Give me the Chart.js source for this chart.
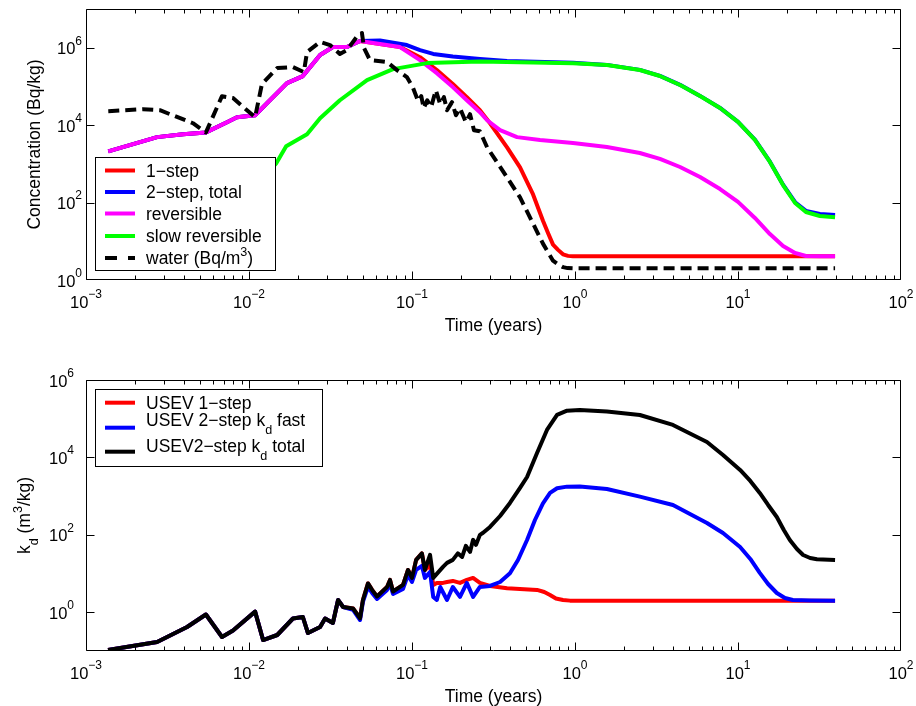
<!DOCTYPE html>
<html>
<head>
<meta charset="utf-8">
<script src="https://cdn.jsdelivr.net/npm/chart.js@4.4.0/dist/chart.umd.min.js"></script>
<style>
  html, body { margin: 0; padding: 0; background: #fff; }
  #wrap { position: relative; width: 916px; height: 706px; }
  #wrap canvas { position: absolute; left: 0; }
</style>
</head>
<body>
<div id="wrap">
  <canvas id="conc" width="916" height="340" style="top:0"></canvas>
  <canvas id="kd" width="916" height="366" style="top:340px"></canvas>
</div>
<script>
// ---- top panel: concentration vs time (years) ----
const oneStepT = [1.37e-3, 2.73e-3, 3.94e-3, 5.44e-3, 7.33e-3, 8.44e-3, 1.09e-2, 1.29e-2, 1.71e-2, 2.14e-2, 2.73e-2, 3.27e-2, 3.99e-2, 4.80e-2, 6.36e-2, 8.44e-2,
  0.112, 0.142, 0.178, 0.217, 0.261, 0.301, 0.383, 0.460, 0.553, 0.636, 0.683, 0.733, 0.787, 0.844, 0.906, 0.972, 39.4];
const oneStepC = [2.1e3, 4.9e3, 5.8e3, 6.5e3, 1.19e4, 1.6e4, 1.8e4, 3.7e4, 1.22e5, 1.85e5, 6.5e5, 1.04e6, 1.04e6, 1.49e6, 1.25e6, 1.04e6,
  5.7e5, 2.64e5, 1.15e5, 5.3e4, 2.43e4, 1.12e4, 2.67e3, 811, 162, 34, 16.4, 8.2, 6.0, 4.6, 4.2, 4.1, 4.1];

const twoStepT = [1.37e-3, 2.73e-3, 3.94e-3, 5.44e-3, 7.33e-3, 8.44e-3, 1.09e-2, 1.29e-2, 1.71e-2, 2.14e-2, 2.73e-2, 3.27e-2, 3.99e-2, 4.80e-2,
  6.36e-2, 9.3e-2, 0.112, 0.135, 0.178, 0.261, 0.383, 0.972, 1.57, 2.50, 3.32, 4.41, 5.85, 7.76, 10.0, 12.7, 15.7, 18.9, 22.4, 26.1, 31.8, 39.4];
const twoStepC = [2.1e3, 4.9e3, 5.8e3, 6.5e3, 1.19e4, 1.6e4, 1.8e4, 3.7e4, 1.22e5, 1.85e5, 6.5e5, 1.04e6, 1.04e6, 1.49e6,
  1.54e6, 1.17e6, 8.7e5, 6.9e5, 5.9e5, 5.1e5, 4.52e5, 4.09e5, 3.6e5, 2.68e5, 1.87e5, 1.1e5, 5.7e4, 2.78e4, 1.22e4, 4.2e3, 1.14e3, 290, 102, 61, 50.7, 47.8];

const reversibleT = [1.37e-3, 2.73e-3, 3.94e-3, 5.44e-3, 7.33e-3, 8.44e-3, 1.09e-2, 1.29e-2, 1.71e-2, 2.14e-2, 2.73e-2, 3.27e-2, 3.99e-2, 4.80e-2, 6.36e-2, 8.44e-2,
  0.112, 0.142, 0.178, 0.217, 0.261, 0.289, 0.347, 0.441, 0.610, 0.972, 1.57, 2.50, 3.32, 4.41, 5.85, 7.76, 10.0, 12.7, 15.7, 18.9, 22.4, 26.1, 31.8, 39.4];
const reversibleC = [2.1e3, 4.9e3, 5.8e3, 6.5e3, 1.19e4, 1.6e4, 1.8e4, 3.7e4, 1.22e5, 1.85e5, 6.5e5, 1.04e6, 1.04e6, 1.49e6, 1.25e6, 1.04e6,
  4.8e5, 2.2e5, 9.6e4, 4.4e4, 2.16e4, 1.34e4, 7.4e3, 4.9e3, 4.14e3, 3.46e3, 2.73e3, 1.91e3, 1.34e3, 830, 458, 224, 104, 40, 15.4, 7.55, 4.98, 4.17, 4.1, 4.1];

const slowT = [7.63e-3, 1.09e-2, 1.47e-2, 1.69e-2, 2.27e-2, 2.73e-2, 3.61e-2, 5.30e-2, 7.65e-2, 0.124, 0.261, 0.972,
  1.57, 2.50, 3.32, 4.41, 5.85, 7.76, 10.0, 12.7, 15.7, 18.9, 22.4, 26.1, 31.8, 39.4];
const slowC = [84, 277, 1.03e3, 2.84e3, 5.8e3, 1.51e4, 4.4e4, 1.46e5, 2.8e5, 4.0e5, 4.39e5, 3.96e5,
  3.58e5, 2.66e5, 1.86e5, 1.09e5, 5.67e4, 2.77e4, 1.21e4, 4.14e3, 1.12e3, 284, 97.5, 57.1, 45, 41.7];

const waterT = [1.37e-3, 2.24e-3, 2.84e-3, 4.53e-3, 5.44e-3, 6.83e-3, 7.98e-3, 1.09e-2, 1.20e-2, 1.49e-2, 1.86e-2, 2.17e-2, 2.27e-2, 2.73e-2, 3.14e-2,
  3.61e-2, 3.99e-2, 4.67e-2, 4.93e-2, 5.08e-2, 5.52e-2, 7.03e-2, 8.09e-2, 9.3e-2, 0.101, 0.109, 0.114, 0.118, 0.124, 0.131, 0.140, 0.149,
  0.157, 0.164, 0.176, 0.186, 0.197, 0.214, 0.227, 0.240, 0.261, 0.289, 0.383, 0.460, 0.553, 0.636, 0.733, 0.79, 0.844, 0.90, 0.972, 39.4];
const waterC = [2.29e4, 2.58e4, 2.43e4, 1.12e4, 6.5e3, 5.6e4, 5.0e4, 1.6e4, 1.15e5, 2.98e5, 3.16e5, 2.35e5, 7.7e5, 1.41e6, 1.17e6,
  6.9e5, 8.7e5, 2.13e6, 2.4e6, 9.8e5, 4.8e5, 4.26e5, 2.64e5, 1.74e5, 9.6e4, 4.16e4, 5.6e4, 2.74e4, 4.4e4, 2.91e4, 8.0e4, 3.48e4,
  5.3e4, 2.43e4, 3.92e4, 1.8e4, 2.74e4, 1.19e4, 1.92e4, 7.4e3, 6.95e3, 2.67e3, 447, 136, 28.7, 8.7, 3.16, 2.5, 2.15, 2.03, 2.0, 2.0];

// ---- bottom panel: kd vs time (years) ----
const kdOneT = [1.365e-3, 2.73e-3, 4.17e-3, 5.44e-3, 6.83e-3, 7.98e-3, 1.09e-2, 1.22e-2, 1.49e-2, 1.86e-2, 2.14e-2, 2.30e-2, 2.73e-2, 2.93e-2, 3.27e-2,
  3.52e-2, 3.78e-2, 4.35e-2, 4.80e-2, 5.00e-2, 5.37e-2, 5.69e-2, 6.10e-2, 7.03e-2, 7.33e-2, 7.65e-2, 8.81e-2, 9.45e-2, 0.100, 0.106, 0.115, 0.120,
  0.129, 0.135, 0.142, 0.155, 0.164, 0.178, 0.197, 0.217, 0.237, 0.261, 0.301, 0.383, 0.585, 0.648, 0.703, 0.764, 0.844, 0.931, 39.4];
const kdOne = [0.106, 0.170, 0.417, 0.877, 0.230, 0.338, 1.04, 0.192, 0.259, 0.691, 0.756, 0.291, 0.417, 0.691, 0.529,
  2.08, 1.37, 1.25, 0.700, 2.08, 5.56, 3.78, 2.56, 4.51, 6.85, 3.45, 5.09, 12.4, 7.72, 22.6, 33.2, 12.4,
  16.7, 5.09, 5.73, 5.73, 6.08, 6.45, 5.73, 6.85, 7.72, 5.73, 4.79, 4.18, 3.78, 3.35, 2.80, 2.27, 2.08, 2.0, 2.0];

const kdFastT = [1.365e-3, 2.73e-3, 4.17e-3, 5.44e-3, 6.83e-3, 7.98e-3, 1.09e-2, 1.22e-2, 1.49e-2, 1.86e-2, 2.14e-2, 2.30e-2, 2.73e-2, 2.93e-2, 3.27e-2,
  3.52e-2, 3.78e-2, 4.35e-2, 4.80e-2, 5.00e-2, 5.37e-2, 5.69e-2, 6.10e-2, 7.03e-2, 7.33e-2, 7.65e-2, 8.81e-2, 9.45e-2, 0.100, 0.106, 0.115, 0.120,
  0.129, 0.135, 0.142, 0.149, 0.164, 0.178, 0.197, 0.217, 0.237, 0.261, 0.301, 0.347, 0.399, 0.447, 0.508, 0.568, 0.636, 0.703, 0.776, 0.893,
  1.07, 1.57, 2.50, 3.99, 6.45, 8.09, 10.3, 11.9, 13.6, 15.3, 17.3, 19.4, 21.7, 27.7, 39.4];
const kdFast = [0.106, 0.170, 0.417, 0.877, 0.230, 0.338, 1.04, 0.192, 0.259, 0.691, 0.756, 0.291, 0.417, 0.691, 0.529,
  2.08, 1.37, 1.15, 0.632, 1.85, 4.51, 3.16, 2.21, 3.78, 5.40, 2.97, 4.01, 9.23, 6.08, 12.4, 15.8, 7.72,
  11.0, 2.49, 2.08, 4.51, 2.08, 4.51, 2.49, 5.73, 2.49, 4.51, 4.78, 6.06, 10.2, 22.4, 73.8, 242, 654, 1.21e3, 1.60e3, 1.76e3,
  1.77e3, 1.53e3, 969, 591, 203, 112, 48.6, 23.8, 10.4, 5.38, 3.15, 2.34, 2.08, 2.02, 2.0];

const kdTotalT = [1.365e-3, 2.73e-3, 4.17e-3, 5.44e-3, 6.83e-3, 7.98e-3, 1.09e-2, 1.22e-2, 1.49e-2, 1.86e-2, 2.14e-2, 2.30e-2, 2.73e-2, 2.93e-2, 3.27e-2,
  3.52e-2, 3.78e-2, 4.35e-2, 4.80e-2, 5.00e-2, 5.37e-2, 5.69e-2, 6.10e-2, 7.03e-2, 7.33e-2, 7.65e-2, 8.81e-2, 9.45e-2, 0.100, 0.106, 0.115, 0.120,
  0.129, 0.135, 0.155, 0.164, 0.178, 0.191, 0.203, 0.214, 0.227, 0.237, 0.247, 0.261, 0.273, 0.301, 0.347, 0.399, 0.460, 0.508, 0.585, 0.673, 0.776, 0.893,
  1.07, 1.57, 2.50, 3.99, 6.45, 8.09, 10.3, 11.9, 13.6, 15.3, 17.3, 19.1, 20.8, 23.0, 25.1, 27.7, 30.5, 39.4];
const kdTotal = [0.106, 0.170, 0.417, 0.877, 0.230, 0.338, 1.04, 0.192, 0.259, 0.691, 0.756, 0.291, 0.417, 0.691, 0.529,
  2.08, 1.37, 1.25, 0.700, 2.08, 5.56, 3.78, 2.56, 4.51, 6.85, 3.45, 5.09, 12.4, 7.72, 22.6, 33.2, 12.4,
  30.4, 7.72, 14.9, 18.9, 22.6, 33.2, 27.0, 51.9, 36.3, 74.3, 55.1, 100, 113, 160, 307, 666, 1.63e3, 3.13e3, 1.30e4, 5.12e4, 1.25e5, 1.61e5,
  1.68e5, 1.54e5, 1.25e5, 6.9e4, 2.51e4, 1.16e4, 4.74e3, 2.47e3, 1.21e3, 591, 290, 134, 73.8, 43.2, 30.2, 25.3, 23.4, 22.4];

// tick decades
const xPowers = [-3, -2, -1, 0, 1, 2];
const concPowers = [0, 2, 4, 6];
const kdPowers = [0, 2, 4, 6];

const FONT = '"Liberation Sans", Arial, Helvetica, sans-serif';
const font = s => s + 'px ' + FONT;

function pts(t, v) {
  return t.map((x, i) => ({ x: x, y: v[i] }));
}

function richWidth(ctx, segs, size) {
  let w = 0;
  segs.forEach(s => {
    ctx.font = font(s.sub || s.sup ? size * 0.72 : size);
    w += ctx.measureText(s.t).width;
  });
  return w;
}

function drawRich(ctx, segs, x, y, size) {
  segs.forEach(s => {
    const small = s.sub || s.sup;
    ctx.font = font(small ? size * 0.72 : size);
    const dy = s.sup ? -size * 0.47 : (s.sub ? size * 0.45 : 0);
    ctx.fillText(s.t, x, y + dy);
    x += ctx.measureText(s.t).width;
  });
}

// draws "10" with a raised exponent
function drawPower(ctx, p, x, y, align) {
  const exp = p < 0 ? '\u2212' + (-p) : String(p);
  ctx.font = font(16.5);
  const w1 = ctx.measureText('10').width;
  ctx.font = font(12);
  const w2 = ctx.measureText(exp).width;
  let x0 = align === 'right' ? x - w1 - w2 : x - (w1 + w2) / 2;
  ctx.font = font(16.5);
  ctx.fillText('10', x0, y);
  ctx.font = font(12);
  ctx.fillText(exp, x0 + w1, y - 9.6);
}

const framePlugin = {
  id: 'frame',
  afterDraw(chart, args, opts) {
    const ctx = chart.ctx;
    const a = chart.chartArea;
    const xs = chart.scales.x, ys = chart.scales.y;
    const L = Math.round(a.left) + 0.5, R = Math.round(a.right) - 0.5;
    const T = Math.round(a.top) + 0.5, B = Math.round(a.bottom) - 0.5;
    const clampX = v => Math.min(R, Math.max(L, Math.round(v) + 0.5));
    const clampY = v => Math.min(B, Math.max(T, Math.round(v) + 0.5));
    ctx.save();
    ctx.setLineDash([]);
    ctx.strokeStyle = '#000';
    ctx.lineWidth = 1;
    ctx.beginPath();
    ctx.rect(L, T, R - L, B - T);
    // x ticks, major and minor, pointing inward on bottom and top
    xPowers.forEach(p => {
      const px = clampX(xs.getPixelForValue(Math.pow(10, p)));
      ctx.moveTo(px, B); ctx.lineTo(px, B - 8);
      ctx.moveTo(px, T); ctx.lineTo(px, T + 8);
      if (p < 2) {
        for (let k = 2; k <= 9; k++) {
          const mx = clampX(xs.getPixelForValue(k * Math.pow(10, p)));
          ctx.moveTo(mx, B); ctx.lineTo(mx, B - 4);
          ctx.moveTo(mx, T); ctx.lineTo(mx, T + 4);
        }
      }
    });
    opts.yPowers.forEach(p => {
      const py = clampY(ys.getPixelForValue(Math.pow(10, p)));
      ctx.moveTo(L, py); ctx.lineTo(L + 8, py);
      ctx.moveTo(R, py); ctx.lineTo(R - 8, py);
    });
    ctx.stroke();

    // tick labels
    ctx.fillStyle = '#000';
    ctx.textBaseline = 'alphabetic';
    ctx.textAlign = 'left';
    xPowers.forEach(p => {
      drawPower(ctx, p, xs.getPixelForValue(Math.pow(10, p)), a.bottom + 27.5, 'center');
    });
    opts.yPowers.forEach(p => {
      drawPower(ctx, p, opts.yLabelRight, ys.getPixelForValue(Math.pow(10, p)) + 6.5, 'right');
    });

    // axis titles
    const ts = 17.5;
    const xw = richWidth(ctx, opts.xTitle, ts);
    drawRich(ctx, opts.xTitle, (a.left + a.right) / 2 - xw / 2, a.bottom + 51, ts);
    const yw = richWidth(ctx, opts.yTitle, ts);
    ctx.save();
    ctx.translate(opts.yTitleX, (a.top + a.bottom) / 2);
    ctx.rotate(-Math.PI / 2);
    drawRich(ctx, opts.yTitle, -yw / 2, 0, ts);
    ctx.restore();

    // legend box
    const lg = opts.legend;
    ctx.fillStyle = '#fff';
    ctx.fillRect(lg.x, lg.y, lg.w, lg.h);
    ctx.strokeStyle = '#000';
    ctx.lineWidth = 1;
    ctx.strokeRect(lg.x + 0.5, lg.y + 0.5, lg.w, lg.h);
    lg.rows.forEach(r => {
      ctx.beginPath();
      ctx.strokeStyle = r.color;
      ctx.lineWidth = 4;
      ctx.setLineDash(r.dash || []);
      ctx.moveTo(105, r.y);
      ctx.lineTo(135, r.y);
      ctx.stroke();
      ctx.setLineDash([]);
      ctx.fillStyle = '#000';
      drawRich(ctx, r.text, 146, r.textY + 0.36 * ts, ts);
    });
    ctx.restore();
  }
};

function line(label, t, v, color, order, dash) {
  return {
    label: label,
    data: pts(t, v),
    borderColor: color,
    backgroundColor: color,
    borderWidth: 4,
    borderDash: dash || [],
    pointRadius: 0,
    tension: 0,
    borderJoinStyle: 'round',
    fill: false,
    order: order
  };
}

function makeChart(id, datasets, yMin, yMax, pad, deco) {
  return new Chart(document.getElementById(id), {
    type: 'line',
    data: { datasets: datasets },
    options: {
      responsive: false,
      animation: false,
      events: [],
      layout: { padding: pad },
      scales: {
        x: { type: 'logarithmic', min: 1e-3, max: 1e2, display: false },
        y: { type: 'logarithmic', min: yMin, max: yMax, display: false }
      },
      plugins: { legend: { display: false }, tooltip: { enabled: false }, frame: deco }
    },
    plugins: [framePlugin]
  });
}

makeChart('conc', [
  line('1\u2212step', oneStepT, oneStepC, '#ff0000', 5),
  line('2\u2212step, total', twoStepT, twoStepC, '#0000ff', 4),
  line('reversible', reversibleT, reversibleC, '#ff00ff', 3),
  line('slow reversible', slowT, slowC, '#00ff00', 2),
  line('water (Bq/m3)', waterT, waterC, '#000000', 1, [11, 6])
], 1, 1e7, { left: 86, top: 9, right: 15, bottom: 60 }, {
  yPowers: concPowers,
  yLabelRight: 82,
  yTitleX: 40,
  xTitle: [{ t: 'Time (years)' }],
  yTitle: [{ t: 'Concentration (Bq/kg)' }],
  legend: {
    x: 95, y: 157, w: 180, h: 113,
    rows: [
      { y: 170.5, textY: 170.5, color: '#ff0000', text: [{ t: '1\u2212step' }] },
      { y: 192, textY: 192, color: '#0000ff', text: [{ t: '2\u2212step, total' }] },
      { y: 213.5, textY: 213.5, color: '#ff00ff', text: [{ t: 'reversible' }] },
      { y: 236, textY: 236, color: '#00ff00', text: [{ t: 'slow reversible' }] },
      { y: 258, textY: 258, color: '#000000', dash: [12, 11], text: [{ t: 'water (Bq/m' }, { t: '3', sup: true }, { t: ')' }] }
    ]
  }
});

makeChart('kd', [
  line('USEV 1\u2212step', kdOneT, kdOne, '#ff0000', 3),
  line('USEV 2\u2212step kd fast', kdFastT, kdFast, '#0000ff', 2),
  line('USEV2\u2212step kd total', kdTotalT, kdTotal, '#000000', 1)
], 0.1, 1e6, { left: 86, top: 40, right: 15, bottom: 55 }, {
  yPowers: kdPowers,
  yLabelRight: 74,
  yTitleX: 30,
  xTitle: [{ t: 'Time (years)' }],
  yTitle: [{ t: 'k' }, { t: 'd', sub: true }, { t: ' (m' }, { t: '3', sup: true }, { t: '/kg)' }],
  legend: {
    x: 95, y: 49, w: 227, h: 77,
    rows: [
      { y: 62.7, textY: 62.3, color: '#ff0000', text: [{ t: 'USEV 1\u2212step' }] },
      { y: 87.7, textY: 80, color: '#0000ff', text: [{ t: 'USEV 2\u2212step k' }, { t: 'd', sub: true }, { t: ' fast' }] },
      { y: 111.7, textY: 106, color: '#000000', text: [{ t: 'USEV2\u2212step k' }, { t: 'd', sub: true }, { t: ' total' }] }
    ]
  }
});
</script>
</body>
</html>
